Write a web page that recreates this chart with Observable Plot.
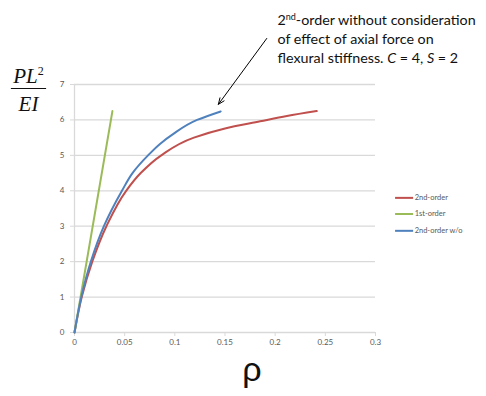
<!DOCTYPE html>
<html><head><meta charset="utf-8">
<script src="https://cdn.jsdelivr.net/npm/d3@7"></script>
<script src="https://cdn.jsdelivr.net/npm/@observablehq/plot@0.6"></script>
<style>body{margin:0;background:#fff;}</style>
</head><body><div id="chart"></div>
<script>
// ---- data ----
const seriesNames = ["2nd-order", "1st-order", "2nd-order w/o"];
const seriesColors = ["#c0504d", "#9bbb59", "#4f81bd"];
const rho2nd = [0, 0.0072, 0.0177, 0.0318, 0.0515, 0.0660, 0.0865, 0.119, 0.150, 0.185, 0.2117, 0.2415];
const p2nd   = [0, 1, 2, 3, 4, 4.5, 5, 5.5, 5.76, 5.96, 6.11, 6.25];
const rho1st = [0, 0.0378];
const p1st   = [0, 6.25];
const rhoWo  = [0, 0.0068, 0.0163, 0.0293, 0.0473, 0.0578, 0.0733, 0.0855, 0.0982, 0.1222, 0.1457];
const pWo    = [0, 1, 2, 3, 4, 4.5, 5, 5.33, 5.6, 6.0, 6.24];
const xTicks = [0, 0.05, 0.1, 0.15, 0.2, 0.25, 0.3];
const xTickLabels = ["0", "0.05", "0.1", "0.15", "0.2", "0.25", "0.3"];
const yTicks = [0, 1, 2, 3, 4, 5, 6, 7];
const yTickLabels = ["0", "1", "2", "3", "4", "5", "6", "7"];
const annotLines = ["2nd-order without consideration", "of effect of axial force on", "flexural stiffness. C = 4, S = 2"];
const xLabel = "ρ";
const yLabelNum = "PL2";
const yLabelDen = "EI";

// ---- build tables ----
const rows = [];
[[rho2nd, p2nd], [rho1st, p1st], [rhoWo, pWo]].forEach(([rs, ps], k) =>
  rs.forEach((r, i) => rows.push({rho: r, p: ps[i], s: seriesNames[k]})));
const legendRows = seriesNames.map((s, i) => ({s, y: [3.80, 3.345, 2.87][i]}));
const arrowRow = [{x1: 0.1916, y1: 8.30, x2: 0.1434, y2: 6.44}];
const annotDy = [-60, -41, -22];

const grey = "#595959";
const gridC = "#d9d9d9";

const plot = Plot.plot({
  width: 486, height: 396,
  marginLeft: 74, marginRight: 111, marginTop: 84, marginBottom: 64,
  style: {fontFamily: "Lato, 'Liberation Sans', sans-serif", background: "#fff", overflow: "visible"},
  x: {domain: [0, 0.3]},
  y: {domain: [0, 7]},
  color: {domain: seriesNames, range: seriesColors},
  marks: [
    Plot.gridY(yTicks, {stroke: gridC, strokeOpacity: 1, strokeWidth: 1.3}),
    Plot.ruleX([0], {stroke: gridC, strokeWidth: 1.3}),
    Plot.axisY({ticks: yTicks, tickFormat: d => yTickLabels[yTicks.indexOf(d)], tickSize: 4, tickPadding: 6,
      fontSize: 8, stroke: gridC, fill: grey, label: null}),
    Plot.axisX({ticks: xTicks, tickFormat: d => xTickLabels[xTicks.indexOf(d)], tickSize: 4, tickPadding: 3,
      fontSize: 8, stroke: gridC, fill: grey, label: null}),
    Plot.line(rows, {x: "rho", y: "p", z: "s", stroke: "s", strokeWidth: 2, curve: "monotone-y"}),
    // legend
    Plot.ruleY(legendRows, {y: "y", x1: 0.32, x2: 0.338, stroke: "s", strokeWidth: 2}),
    Plot.text(legendRows, {y: "y", x: 0.338, text: "s", textAnchor: "start", dx: 1, fontSize: 7.5, fill: grey}),
    // annotation
    Plot.arrow(arrowRow, {x1: "x1", y1: "y1", x2: "x2", y2: "y2", stroke: "black", strokeWidth: 1, headLength: 10, headAngle: 45}),
    ...annotLines.map((t, i) => Plot.text([t], {frameAnchor: "top-left", dx: 203, dy: annotDy[i], textAnchor: "start",
      lineAnchor: "bottom", fontSize: 14.3, fill: "#111"})),
    // axis labels
    Plot.text([xLabel], {frameAnchor: "bottom", dx: 27, dy: 48, lineAnchor: "bottom", fontSize: 34, fill: "#111",
      fontFamily: "'Liberation Sans', sans-serif"}),
    Plot.text([yLabelNum], {frameAnchor: "top-left", dx: -46, dy: -2, textAnchor: "middle", lineAnchor: "bottom", fontSize: 21, fill: "#111",
      fontFamily: "'Liberation Serif', serif", fontStyle: "italic"}),
    Plot.text([yLabelDen], {frameAnchor: "top-left", dx: -46, dy: 26, textAnchor: "middle", lineAnchor: "bottom", fontSize: 21, fill: "#111",
      fontFamily: "'Liberation Serif', serif", fontStyle: "italic"}),
    Plot.ruleY([7], {x1: -0.0629, x2: -0.0278, dy: 4, stroke: "#111", strokeWidth: 1})
  ]
});
document.getElementById("chart").appendChild(plot);

// rich text: superscripts & italics
function rich(el, parts) {
  const sel = d3.select(el);
  sel.text(null);
  parts.forEach(p => {
    const t = sel.append("tspan").text(p.t);
    if (p.sup) t.attr("font-size", p.size).attr("dy", -p.shift).attr("font-style", p.upright ? "normal" : null);
    if (p.down) t.attr("dy", p.down);
    if (p.it) t.attr("font-style", "italic");
  });
}
d3.select(plot).selectAll("text").each(function () {
  const s = this.textContent;
  if (s === annotLines[0]) rich(this, [{t: "2"}, {t: "nd", sup: true, size: 9, shift: 5}, {t: "-order without consideration", down: 5}]);
  if (s === annotLines[2]) rich(this, [{t: "flexural stiffness. "}, {t: "C", it: true}, {t: " = 4, "}, {t: "S", it: true}, {t: " = 2"}]);
  if (s === yLabelNum) rich(this, [{t: "PL"}, {t: "2", sup: true, upright: true, size: 12, shift: 8}]);
});
</script>
</body></html>
